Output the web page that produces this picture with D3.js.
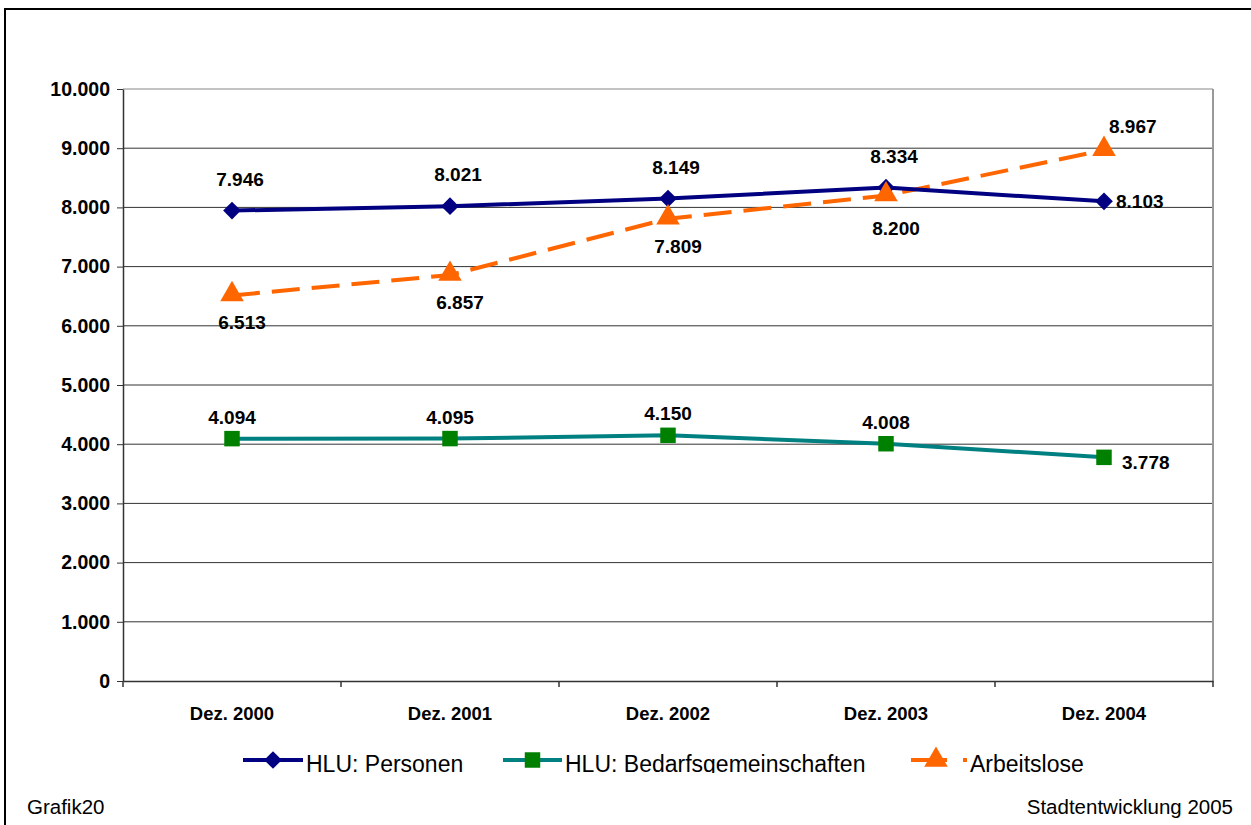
<!DOCTYPE html>
<html>
<head>
<meta charset="utf-8">
<script src="https://cdn.jsdelivr.net/npm/d3@7"></script>
<style>
  body { margin: 0; background: #fff; }
  svg { display: block; font-family: "Liberation Sans", Arial, sans-serif; }
</style>
</head>
<body>
<svg id="chart" width="1251" height="825"></svg>
<script>
// data
var categories = ["Dez. 2000", "Dez. 2001", "Dez. 2002", "Dez. 2003", "Dez. 2004"];
var personen = [7946, 8021, 8149, 8334, 8103];
var bedarf = [4094, 4095, 4150, 4008, 3778];
var arbeitslose = [6513, 6857, 7809, 8200, 8967];
var yTicks = [0, 1000, 2000, 3000, 4000, 5000, 6000, 7000, 8000, 9000, 10000];

var svg = d3.select("#chart");
var fmt = function (v) { return d3.format(",")(v).replace(/,/g, "."); };

// outer frame
svg.append("rect").attr("x", 5).attr("y", 9).attr("width", 1300).attr("height", 900)
  .attr("fill", "none").attr("stroke", "#000").attr("stroke-width", 2);

var pLeft = 123, pRight = 1213, pTop = 89, pBottom = 681;
var x = d3.scaleBand().domain(categories).range([pLeft, pRight]);
var y = d3.scaleLinear().domain([0, 10000]).range([pBottom, pTop]);

// gridlines
svg.append("g").selectAll("line").data(yTicks.slice(1)).join("line")
  .attr("x1", pLeft).attr("x2", pRight)
  .attr("y1", function (d) { return y(d); }).attr("y2", function (d) { return y(d); })
  .attr("stroke", function (d) { return d == 10000 ? "#888" : "#333"; }).attr("stroke-width", 1);
// right plot border
svg.append("line").attr("x1", pRight).attr("x2", pRight).attr("y1", pTop).attr("y2", pBottom)
  .attr("stroke", "#999").attr("stroke-width", 2);

// y axis
var yAxis = svg.append("g").attr("transform", "translate(" + pLeft + ",0)")
  .call(d3.axisLeft(y).tickValues(yTicks).tickSize(6).tickSizeOuter(0).tickFormat(fmt));
yAxis.select(".domain").attr("stroke", "#333").attr("stroke-width", 1.5);
yAxis.selectAll("line").attr("stroke", "#333");
yAxis.selectAll("text").attr("font-size", 19.5).attr("font-weight", "bold").attr("fill", "#000")
  .attr("font-family", "Liberation Sans, Arial, sans-serif").attr("x", -13);

// x axis
var xAxis = svg.append("g").attr("transform", "translate(0," + pBottom + ")")
  .call(d3.axisBottom(x).tickSize(0).tickSizeOuter(0));
xAxis.select(".domain").attr("stroke", "#333").attr("stroke-width", 1.5);
xAxis.selectAll("text").attr("font-size", 18.5).attr("font-weight", "bold").attr("fill", "#000")
  .attr("font-family", "Liberation Sans, Arial, sans-serif").attr("dy", 0).attr("y", 39);
// x tick marks between categories
var bounds = categories.map(function (c) { return x(c); }).concat([pRight]);
svg.append("g").selectAll("line").data(bounds).join("line")
  .attr("x1", function (d) { return d; }).attr("x2", function (d) { return d; })
  .attr("y1", pBottom).attr("y2", pBottom + 6).attr("stroke", "#333").attr("stroke-width", 1.5);

var cx = function (i) { return x(categories[i]) + x.bandwidth() / 2; };
var line = d3.line().x(function (d, i) { return cx(i); }).y(function (d) { return y(d); });

// series lines
svg.append("path").datum(arbeitslose).attr("d", line).attr("fill", "none")
  .attr("stroke", "#FF6600").attr("stroke-width", 4).attr("stroke-dasharray", "28,12");
svg.append("path").datum(personen).attr("d", line).attr("fill", "none")
  .attr("stroke", "#000080").attr("stroke-width", 4);
svg.append("path").datum(bedarf).attr("d", line).attr("fill", "none")
  .attr("stroke", "#008080").attr("stroke-width", 4);

var diamond = d3.symbol().type(d3.symbolDiamond2).size(200);
var square = d3.symbol().type(d3.symbolSquare).size(240);
var triangle = d3.symbol().type(d3.symbolTriangle).size(240);

svg.append("g").selectAll("path").data(personen).join("path")
  .attr("d", diamond).attr("fill", "#000080")
  .attr("transform", function (d, i) { return "translate(" + cx(i) + "," + y(d) + ")"; });
svg.append("g").selectAll("path").data(bedarf).join("path")
  .attr("d", square).attr("fill", "#008000")
  .attr("transform", function (d, i) { return "translate(" + cx(i) + "," + y(d) + ")"; });
svg.append("g").selectAll("path").data(arbeitslose).join("path")
  .attr("d", triangle).attr("fill", "#FF6600")
  .attr("transform", function (d, i) { return "translate(" + cx(i) + "," + (y(d) - 1) + ")"; });

// data labels
function labels(data, pos) {
  svg.append("g").selectAll("text").data(data).join("text")
    .attr("font-size", 19).attr("font-weight", "bold").attr("fill", "#000")
    .attr("text-anchor", function (d, i) { return pos(i).a; })
    .attr("x", function (d, i) { return cx(i) + pos(i).dx; })
    .attr("y", function (d, i) { return y(d) + pos(i).dy; })
    .text(fmt);
}
labels(personen, function (i) { return i == 4 ? { a: "start", dx: 12, dy: 7 } : { a: "middle", dx: 8, dy: -25 }; });
labels(bedarf, function (i) { return i == 4 ? { a: "start", dx: 18, dy: 12 } : { a: "middle", dx: 0, dy: -15 }; });
labels(arbeitslose, function (i) {
  return i == 4 ? { a: "start", dx: 5, dy: -17 } : { a: "middle", dx: 10, dy: i == 3 ? 39 : 34 };
});

// legend (bottom is clipped like the original)
svg.append("clipPath").attr("id", "legclip").append("rect")
  .attr("x", 0).attr("y", 740).attr("width", 1251).attr("height", 33);
var legend = [
  { name: "HLU: Personen", color: "#000080", mcolor: "#000080", sym: diamond, x0: 243, x1: 303, dash: null },
  { name: "HLU: Bedarfsgemeinschaften", color: "#008080", mcolor: "#008000", sym: square, x0: 503, x1: 562, dash: null },
  { name: "Arbeitslose", color: "#FF6600", mcolor: "#FF6600", sym: triangle, x0: 911, x1: 967, dash: "36,16,4" }
];
var lg = svg.append("g").attr("clip-path", "url(#legclip)");
legend.forEach(function (l) {
  lg.append("line").attr("x1", l.x0).attr("x2", l.x1).attr("y1", 760).attr("y2", 760)
    .attr("stroke", l.color).attr("stroke-width", 4).attr("stroke-dasharray", l.dash);
  lg.append("path").attr("d", l.sym).attr("fill", l.mcolor)
    .attr("transform", "translate(" + ((l.x0 + l.x1) / 2 + (l.dash ? -3 : 0)) + ",760)");
  lg.append("text").attr("x", l.x1 + 3).attr("y", 772).attr("font-size", 23).attr("fill", "#000")
    .text(l.name);
});

// footer
svg.append("text").attr("x", 27).attr("y", 814).attr("font-size", 20.5).text("Grafik20");
svg.append("text").attr("x", 1233).attr("y", 814).attr("font-size", 20.5).attr("text-anchor", "end")
  .text("Stadtentwicklung 2005");
</script>
</body>
</html>
